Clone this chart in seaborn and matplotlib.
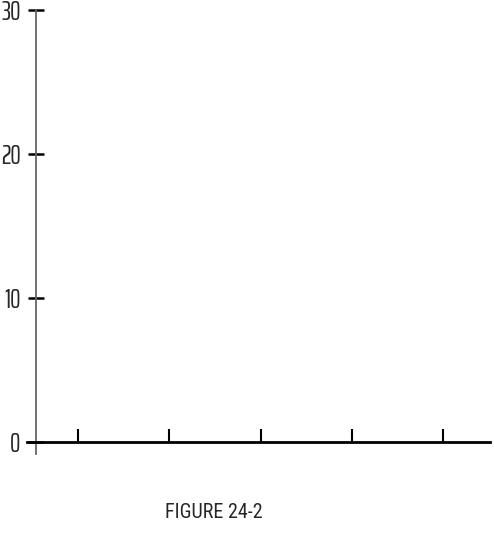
import numpy as np
import pandas as pd
import matplotlib
matplotlib.use("Agg")
import matplotlib.pyplot as plt
import seaborn as sns

# axis data (the figure is an empty frame)
x_ticks = [1, 2, 3, 4, 5]
y_ticks = [0, 10, 20, 30]
y_labels = ["0", "10", "20", "30"]
caption = "FIGURE 24-2"

sns.set_style("white")
plt.rcParams['font.family'] = ['Saira ExtraCondensed', 'DejaVu Sans']

W, H = 494, 533
fig = plt.figure(figsize=(W / 100, H / 100), dpi=100)
# axes box in pixels: x 27..490, y 10..454 (from top)
ax = fig.add_axes([27 / W, 1 - 454 / H, (490 - 27) / W, (454 - 10) / H])

empty = pd.DataFrame({"x": [], "y": []})
sns.lineplot(data=empty, x="x", y="y", ax=ax)

step = 91.25
ax.set_xlim((27 - 78) / step + 1, (490 - 78) / step + 1)
ax.set_ylim(-(454 - 442) / 144 * 10, 30)

ax.spines['top'].set_visible(False)
ax.spines['right'].set_visible(False)
ax.spines['left'].set_position(('data', (36 - 78) / step + 1))
ax.spines['bottom'].set_position(('data', 0))
ax.spines['left'].set_color('#666666')
ax.spines['left'].set_linewidth(1.3)
ax.spines['bottom'].set_color('black')
ax.spines['bottom'].set_linewidth(2)

ax.set_xticks(x_ticks)
ax.set_xticklabels([])
ax.tick_params(axis='x', bottom=True, direction='in', length=9.5, width=1.5, color='black')
ax.set_yticks(y_ticks)
ax.set_yticklabels(y_labels, fontsize=19)
ax.tick_params(axis='y', left=True, direction='inout', length=12, width=1.8, color='black', pad=5)
ax.set_xlabel("")
ax.set_ylabel("")

fig.text(214 / W, 1 - 513 / H, caption, ha='center', va='center', fontsize=14.5,
         family=['Roboto Condensed', 'DejaVu Sans'])

fig.savefig("out.png", dpi=100)
